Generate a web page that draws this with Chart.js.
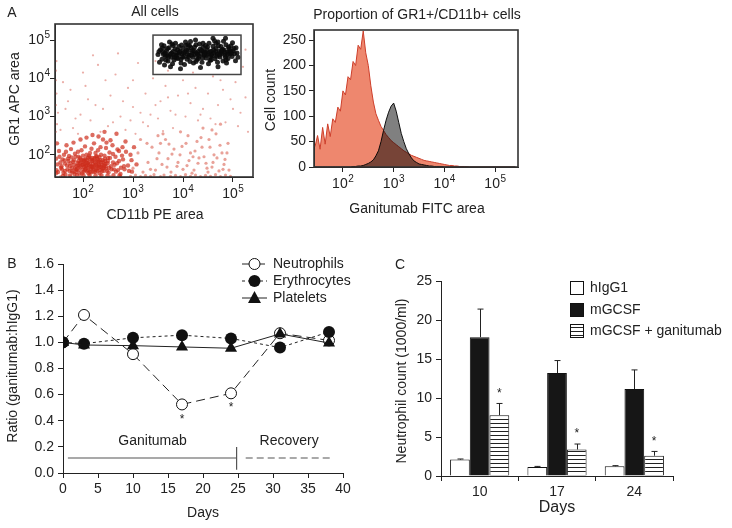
<!DOCTYPE html>
<html><head><meta charset="utf-8">
<script src="https://cdn.jsdelivr.net/npm/chart.js@4.4.1/dist/chart.umd.min.js"></script>
<style>
html,body{margin:0;padding:0;background:#fff;width:732px;height:528px;overflow:hidden}
canvas{position:absolute;left:0;top:0}
</style></head><body>
<canvas id="c1" width="732" height="528"></canvas>
<canvas id="c2" width="732" height="528"></canvas>
<canvas id="c3" width="732" height="528"></canvas>
<canvas id="c4" width="732" height="528"></canvas>
<script>
// ---------------- DATA ----------------
// Panel A left: flow cytometry dots, [log10 CD11b, log10 GR1] pairs (hand-read)
const logTicks = [2, 3, 4, 5];
const gatedCells = [
3.50,4.62, 3.55,4.75, 3.58,4.50, 3.60,4.68, 3.62,4.85, 3.65,4.58, 3.67,4.72, 3.70,4.45, 3.72,4.80, 3.74,4.63,
3.76,4.55, 3.78,4.90, 3.80,4.70, 3.82,4.48, 3.84,4.77, 3.86,4.60, 3.88,4.66, 3.90,4.52, 3.92,4.83, 3.94,4.71,
3.96,4.40, 3.98,4.64, 4.00,4.78, 4.02,4.57, 4.04,4.69, 4.06,4.86, 4.08,4.50, 4.10,4.74, 4.12,4.61, 4.14,4.44,
4.16,4.80, 4.18,4.67, 4.20,4.55, 4.22,4.72, 4.24,4.62, 4.26,4.88, 4.28,4.49, 4.30,4.70, 4.32,4.58, 4.34,4.76,
4.36,4.65, 4.38,4.42, 4.40,4.81, 4.42,4.60, 4.44,4.69, 4.46,4.53, 4.48,4.75, 4.50,4.64, 4.52,4.92, 4.54,4.47,
4.56,4.71, 4.58,4.59, 4.60,4.84, 4.62,4.66, 4.64,4.51, 4.66,4.78, 4.68,4.62, 4.70,4.95, 4.72,4.70, 4.74,4.56,
4.76,4.83, 4.78,4.65, 4.80,4.45, 4.82,4.74, 4.84,4.60, 4.86,4.88, 4.88,4.68, 4.90,4.52, 4.92,4.77, 4.94,4.63,
4.96,4.85, 4.98,4.57, 5.00,4.72, 5.03,4.64, 5.06,4.80, 5.10,4.55,
3.53,4.42, 3.57,4.88, 3.63,4.35, 3.68,4.60, 3.73,4.95, 3.79,4.38, 3.85,4.92, 3.91,4.62, 3.97,4.87, 4.03,4.36,
4.09,4.63, 4.15,4.96, 4.21,4.40, 4.27,4.66, 4.33,4.90, 4.39,4.54, 4.45,4.86, 4.51,4.38, 4.57,4.62, 4.63,4.98,
4.69,4.42, 4.75,4.67, 4.81,4.97, 4.87,4.40, 4.93,4.69, 4.99,4.93, 5.05,4.46, 3.95,4.25, 4.35,4.28, 4.70,4.30,
4.60,5.05, 4.85,5.05, 3.75,4.30, 4.25,5.00, 4.05,4.95,
3.64,4.66, 3.71,4.57, 3.81,4.61, 3.89,4.74, 4.01,4.66, 4.11,4.56, 4.19,4.73, 4.29,4.62, 4.41,4.70, 4.53,4.68,
4.65,4.70, 4.73,4.61, 4.79,4.76, 4.89,4.63, 4.95,4.72, 3.59,4.79, 3.87,4.53, 4.13,4.85, 4.47,4.60, 4.83,4.68,
3.52,4.70, 3.61,4.62, 3.69,4.78, 3.77,4.66, 3.83,4.56, 3.93,4.68, 3.99,4.55, 4.07,4.74, 4.17,4.60, 4.23,4.82,
4.31,4.52, 4.37,4.73, 4.43,4.64, 4.49,4.82, 4.55,4.56, 4.61,4.74, 4.67,4.58, 4.71,4.85, 4.77,4.72, 4.85,4.55,
4.91,4.82, 4.97,4.66, 5.02,4.78, 5.08,4.66, 3.66,4.48, 3.96,4.50, 4.26,4.44, 4.56,4.48, 4.86,4.48, 3.80,4.86,
4.10,4.88, 4.40,4.92, 4.66,4.92
];
const redCore = [
1.50,1.55, 1.55,1.80, 1.58,1.62, 1.62,2.00, 1.65,1.48, 1.68,1.72, 1.70,1.90, 1.73,1.58, 1.76,2.15, 1.78,1.66,
1.80,1.82, 1.83,1.50, 1.85,1.95, 1.87,1.70, 1.90,2.08, 1.92,1.60, 1.94,1.78, 1.96,1.88, 1.98,1.52, 2.00,1.98,
2.02,1.68, 2.04,2.22, 2.06,1.80, 2.08,1.57, 2.10,1.92, 2.12,1.72, 2.14,2.05, 2.16,1.63, 2.18,1.85, 2.20,1.76,
2.22,2.30, 2.24,1.55, 2.26,1.96, 2.28,1.70, 2.30,2.12, 2.32,1.82, 2.34,1.60, 2.36,2.00, 2.38,1.74, 2.40,2.40,
2.42,1.66, 2.44,1.90, 2.46,2.18, 2.48,1.58, 2.50,1.84, 2.53,2.06, 2.56,1.70, 2.59,2.25, 2.62,1.62, 2.65,1.95,
2.68,1.78, 2.72,2.10, 2.76,1.66, 2.80,1.88, 2.85,2.35, 2.90,1.72, 2.95,2.00,
1.52,2.10, 1.60,1.45, 1.67,2.25, 1.74,1.46, 1.81,2.32, 1.88,1.47, 1.95,2.40, 2.01,1.46, 2.07,2.45, 2.13,1.47,
2.19,2.52, 2.25,1.46, 2.31,2.48, 2.37,1.47, 2.43,2.60, 2.49,1.46, 2.55,2.38, 2.61,1.47, 2.67,2.55, 2.73,1.46,
2.79,2.20, 1.63,1.85, 1.72,1.97, 1.84,1.64, 1.91,1.84, 2.03,1.76, 2.09,1.66, 2.15,1.88, 2.21,1.62, 2.27,1.82,
2.33,1.94, 2.39,1.64, 2.45,1.76, 2.11,1.80, 2.17,1.70, 2.23,1.92, 1.99,1.86, 2.05,1.90, 2.29,1.58, 2.35,1.86,
1.47,1.60, 1.46,1.90, 1.48,2.30, 1.57,1.70, 1.64,1.58, 1.75,1.78, 1.86,1.55, 1.93,1.70, 2.00,1.62, 2.07,1.72,
2.14,1.56, 2.19,1.66, 2.26,1.74, 2.31,1.66, 2.41,1.80, 2.52,1.66, 2.60,1.80, 2.70,1.60, 2.83,1.62, 2.98,1.56,
1.46,1.52, 1.49,1.75, 1.53,1.95, 1.56,1.66, 1.59,1.88, 1.61,1.53, 1.64,1.77, 1.66,2.08, 1.69,1.62, 1.71,1.84,
1.74,1.70, 1.77,1.93, 1.79,1.54, 1.82,1.74, 1.84,2.03, 1.86,1.61, 1.89,1.79, 1.91,1.95, 1.93,1.51, 1.95,1.68,
1.97,2.12, 1.99,1.74, 2.01,1.56, 2.03,1.86, 2.05,1.64, 2.07,2.00, 2.09,1.78, 2.11,1.52, 2.13,1.94, 2.15,1.68,
2.17,2.16, 2.19,1.84, 2.21,1.56, 2.23,1.72, 2.25,2.05, 2.27,1.64, 2.29,1.90, 2.31,1.76, 2.33,1.52, 2.35,2.20,
2.37,1.68, 2.39,1.86, 2.41,1.58, 2.43,1.98, 2.45,1.70, 2.47,2.32, 2.49,1.78, 2.51,1.54, 2.54,1.92, 2.57,1.62,
2.60,2.02, 2.63,1.74, 2.66,1.56, 2.69,2.14, 2.72,1.84, 2.75,1.50, 2.78,1.98, 2.82,1.70, 2.86,2.08, 2.92,1.58,
2.97,1.86, 3.02,2.20, 3.07,1.75,
1.90,1.72, 1.96,1.80, 2.02,1.84, 2.06,1.70, 2.10,1.60, 2.14,1.76, 2.18,1.92, 2.20,1.68, 2.24,1.80, 2.26,1.60,
2.28,1.96, 2.32,1.72, 2.36,1.80, 2.38,1.58, 2.42,1.72, 2.44,1.84, 2.08,1.86, 2.12,1.98, 2.16,1.54, 1.94,1.92,
1.88,1.62, 1.82,1.86, 1.78,1.58, 2.46,1.64, 2.50,1.92, 2.22,1.88, 2.04,1.60, 2.00,1.74, 2.30,1.86, 2.34,1.68
];
const redMid = [
3.30,1.80, 3.38,2.20, 3.45,1.60, 3.52,2.05, 3.58,1.75, 3.65,2.40, 3.70,1.90, 3.76,1.55, 3.82,2.15, 3.88,1.70,
3.94,2.00, 4.00,1.62, 4.06,2.30, 4.12,1.85, 4.18,1.52, 4.24,2.10, 4.30,1.78, 4.36,2.45, 4.42,1.95, 4.48,1.65,
4.54,2.20, 4.60,1.80, 4.66,2.55, 4.72,1.58, 4.78,2.05, 4.84,1.88, 4.90,2.30, 3.42,1.48, 3.62,1.47, 3.85,1.46,
4.05,1.48, 4.25,1.47, 4.45,1.46, 4.65,1.48, 4.85,1.47, 3.50,2.50, 3.95,2.60, 4.40,2.70, 4.75,2.80, 3.20,1.55,
3.10,2.05, 3.00,1.65, 3.15,2.40, 4.50,1.55, 4.20,1.95, 3.72,2.28, 4.62,2.00, 4.80,1.62, 3.05,1.47, 3.25,1.46,
3.35,1.62, 3.48,1.90, 3.55,2.30, 3.68,1.68, 3.78,2.02, 3.90,1.80, 3.98,2.22, 4.08,1.72, 4.15,2.05, 4.22,1.60,
4.32,1.92, 4.38,2.20, 4.46,1.78, 4.52,2.40, 4.58,1.68, 4.68,1.92, 4.74,2.25, 4.82,1.75, 4.88,2.05, 4.92,1.60,
3.28,2.30, 3.60,2.55, 4.10,2.50, 4.58,2.65, 4.28,2.35,
1.55,1.43, 1.75,1.43, 1.95,1.43, 2.15,1.43, 2.35,1.43, 2.55,1.43, 2.75,1.43, 2.95,1.44, 3.15,1.43, 3.35,1.44,
3.55,1.43, 3.75,1.44, 3.95,1.43, 4.15,1.44, 4.35,1.43, 4.55,1.44, 4.75,1.43, 4.95,1.44
];
const redSparse = [
1.50,3.10, 1.47,3.60, 1.46,4.20, 1.48,2.80, 1.47,4.45, 1.70,3.40, 1.80,2.70, 1.95,3.05, 2.05,3.80, 2.15,2.90,
2.30,4.35, 2.40,3.20, 2.50,2.75, 2.55,3.55, 2.65,4.10, 2.75,3.00, 2.85,2.65, 2.90,3.75, 3.00,3.25, 3.10,4.40,
3.20,2.85, 3.25,3.60, 3.35,3.05, 3.40,4.00, 3.50,2.95, 3.55,3.40, 3.65,3.80, 3.75,3.15, 3.80,2.70, 3.90,3.55,
4.00,3.95, 4.05,3.00, 4.15,3.35, 4.25,3.75, 4.30,2.90, 4.40,3.20, 4.50,3.60, 4.55,2.95, 4.60,4.05, 4.70,3.30,
4.80,3.70, 4.85,2.85, 4.95,3.45, 5.05,3.90, 5.15,3.10, 5.20,4.30, 5.25,4.75, 5.30,2.60, 2.20,4.60, 2.70,4.65,
1.60,3.90, 2.00,4.15, 3.45,4.45, 2.35,2.60, 1.90,2.55, 3.05,2.55, 3.60,2.62, 2.10,3.45, 2.95,2.90, 3.70,3.50,
1.55,2.65, 1.65,3.20, 1.75,3.70, 1.85,2.95, 2.25,3.30, 2.45,3.95, 2.60,2.85, 2.80,3.40, 3.15,3.10, 3.30,2.75,
3.45,3.30, 3.85,3.05, 4.10,3.60, 4.35,3.05, 4.65,2.80, 4.75,3.95, 5.00,3.20, 5.10,2.75, 5.25,3.50, 1.46,3.30,
1.46,2.60, 1.46,3.95, 3.00,3.95, 3.70,4.20, 4.20,4.15
];
// Gate (log10 units)
const gateX = [3.4, 5.16];
const gateY = [4.1, 5.13];

// Panel A right: histogram, x = log10 FITC
const histX = [1.45,1.50,1.55,1.60,1.65,1.70,1.75,1.80,1.85,1.90,1.95,2.00,2.05,2.10,2.15,2.20,2.25,2.30,2.35,2.40,
  2.45,2.50,2.55,2.60,2.65,2.70,2.75,2.80,2.85,2.90,2.95,3.00,3.05,3.10,3.15,3.20,3.25,3.30,3.35,3.40,
  3.45,3.50,3.55,3.60,3.65,3.70,3.75,3.80,3.85,3.90,3.95,4.00,4.05,4.10,4.15,4.20,4.25,4.30,4.40,4.50,5.40];
const isotypeCounts = [40,62,35,78,45,85,60,95,88,118,110,150,142,178,172,208,200,240,232,268,
  225,200,160,128,105,92,80,72,64,58,52,48,44,40,36,32,29,26,23,21,
  19,17,15,13,12,11,10,9,8,7,6,5,4,3,3,2,2,1,1,0,0];
const ganitumabCounts = [0,0,0,0,0,0,0,0,0,0,0,0,0,0,0,1,1,2,2,3,
  5,7,10,14,22,32,50,72,92,108,120,126,110,88,66,50,36,26,18,12,
  9,6,5,4,3,2,2,1,1,1,1,0,0,0,0,0,0,0,0,0,0];
const histYTicks = [0, 50, 100, 150, 200, 250];

// Panel B
const days = [0, 3, 10, 17, 24, 31, 38];
const neutrophils = [1.00, 1.21, 0.91, 0.525, 0.61, 1.07, 1.015];
const erythrocytes = [1.00, 0.99, 1.035, 1.055, 1.03, 0.96, 1.08];
const platelets = [1.00, 0.98, 0.975, 0.965, 0.955, 1.065, 0.995];
const starDaysB = [17, 24];

// Panel C
const dayLabels = ['10', '17', '24'];
const hIgG1 = [2.1, 1.15, 1.25];
const hIgG1Err = [0.08, 0.08, 0.08];
const mGCSF = [17.8, 13.2, 11.15];
const mGCSFErr = [3.6, 1.6, 2.45];
const mGCSFGan = [7.8, 3.4, 2.6];
const mGCSFGanErr = [1.5, 0.7, 0.55];

// ---------------- SETUP ----------------
const FONT = "'Liberation Sans', Arial, Helvetica, sans-serif";
const INK = '#222';
Chart.defaults.font.family = FONT;
Chart.defaults.font.size = 14;
Chart.defaults.color = INK;
Chart.defaults.animation = false;
Chart.defaults.plugins.legend.display = false;
Chart.defaults.plugins.tooltip.enabled = false;

function pairs(a){ const out=[]; for(let i=0;i<a.length;i+=2) out.push({x:a[i], y:a[i+1]}); return out; }
function pad(a){ return {left:0, top:a.top, right:732-a.right, bottom:0}; }
function gridOpt(){ return {display:true, drawOnChartArea:false, drawTicks:true, tickLength:5, color:INK, lineWidth:1}; }
function borderOpt(){ return {display:true, color:INK, width:1}; }

// "10" with raised exponent, drawn as text
function drawPow(ctx, x, y, exp, align){
  ctx.save();
  ctx.fillStyle = INK; ctx.textBaseline = 'middle'; ctx.textAlign = 'left';
  ctx.font = '14px '+FONT; const w1 = ctx.measureText('10').width;
  ctx.font = '10px '+FONT; const w2 = ctx.measureText(String(exp)).width;
  const tot = w1 + w2 + 0.5;
  let x0 = align==='right' ? x - tot : x - tot/2;
  ctx.font = '14px '+FONT; ctx.fillText('10', x0, y);
  ctx.font = '10px '+FONT; ctx.fillText(String(exp), x0 + w1 + 0.5, y - 5);
  ctx.restore();
}
function powPlugin(xLabelY, yLabelX){
  return {
    id:'pow',
    afterDraw(chart){
      const ctx = chart.ctx;
      logTicks.forEach(v=>{ drawPow(ctx, chart.scales.x.getPixelForValue(v), xLabelY, v, 'center'); });
      if (yLabelX !== null) logTicks.forEach(v=>{ drawPow(ctx, yLabelX, chart.scales.y.getPixelForValue(v), v, 'right'); });
    }
  };
}

// text plugin
Chart.register({
  id:'txt',
  afterDraw(chart, args, opts){
    const ctx = chart.ctx;
    (opts.items||[]).forEach(it=>{
      ctx.save();
      ctx.font = (it.size||14)+'px '+FONT;
      ctx.fillStyle = it.color||INK;
      ctx.textAlign = it.align||'center';
      ctx.textBaseline = 'middle';
      let x = it.x, y = it.y;
      if (it.dx !== undefined) x = chart.scales.x.getPixelForValue(it.dx);
      if (it.dy !== undefined) y = chart.scales.y.getPixelForValue(it.dy);
      ctx.translate(x, y);
      if (it.rot) ctx.rotate(it.rot*Math.PI/180);
      ctx.fillText(it.text, 0, 0);
      ctx.restore();
    });
  }
});
const boxPlugin = {
  id:'box',
  afterDatasetsDraw(chart){
    const a = chart.chartArea, ctx = chart.ctx;
    ctx.save(); ctx.strokeStyle='#333'; ctx.lineWidth=1.6;
    ctx.strokeRect(a.left, a.top, a.right-a.left, a.bottom-a.top);
    ctx.restore();
  }
};

// ---------------- PANEL A: scatter ----------------
const A1 = {left:55, right:253, top:24, bottom:177};
new Chart(document.getElementById('c1'), {
  type:'scatter',
  data:{datasets:[
    {data:pairs(gatedCells), pointRadius:2.5, backgroundColor:'rgba(10,10,10,0.88)', borderWidth:0},
    {data:pairs(redCore), pointRadius:2.2, backgroundColor:'rgba(205,45,28,0.7)', borderWidth:0},
    {data:pairs(redMid), pointRadius:1.6, backgroundColor:'rgba(215,85,70,0.55)', borderWidth:0},
    {data:pairs(redSparse), pointRadius:1.1, backgroundColor:'rgba(222,120,110,0.6)', borderWidth:0}
  ]},
  options:{
    responsive:false, layout:{padding:pad(A1)},
    scales:{
      x:{type:'linear', min:1.44, max:5.4, afterFit:s=>{s.height=528-A1.bottom;},
        afterBuildTicks:s=>{s.ticks=logTicks.map(v=>({value:v}));},
        ticks:{callback:()=>'', padding:2, maxRotation:0}, grid:gridOpt(), border:borderOpt()},
      y:{type:'linear', min:1.42, max:5.42, afterFit:s=>{s.width=A1.left;},
        afterBuildTicks:s=>{s.ticks=logTicks.map(v=>({value:v}));},
        ticks:{callback:()=>'', padding:3}, grid:gridOpt(), border:borderOpt()}
    },
    plugins:{txt:{items:[
      {text:'A', x:12, y:13},
      {text:'All cells', x:155, y:12},
      {text:'GR1 APC area', x:15, y:99, rot:-90},
      {text:'CD11b PE area', x:155, y:215}
    ]}}
  },
  plugins:[boxPlugin, powPlugin(194, 50), {
    id:'gate',
    afterDatasetsDraw(chart){
      const sx=chart.scales.x, sy=chart.scales.y, ctx=chart.ctx;
      const x0=sx.getPixelForValue(gateX[0]), x1=sx.getPixelForValue(gateX[1]);
      const y0=sy.getPixelForValue(gateY[1]), y1=sy.getPixelForValue(gateY[0]);
      ctx.save(); ctx.strokeStyle='#444'; ctx.lineWidth=1.5;
      ctx.strokeRect(x0,y0,x1-x0,y1-y0); ctx.restore();
    }
  }]
});

// ---------------- PANEL A: histogram ----------------
const A2 = {left:314, right:518, top:30, bottom:167};
new Chart(document.getElementById('c2'), {
  type:'line',
  data:{datasets:[
    {label:'iso', data:histX.map((x,i)=>({x, y:isotypeCounts[i]})), order:2, fill:'origin',
     backgroundColor:'rgb(238,135,110)', borderColor:'rgb(205,62,42)', borderWidth:1, pointRadius:0, tension:0},
    {label:'gan', data:histX.map((x,i)=>({x, y:ganitumabCounts[i]})), order:1, fill:'origin',
     backgroundColor:'rgb(128,128,128)', borderColor:'rgb(20,20,20)', borderWidth:1, pointRadius:0, tension:0}
  ]},
  options:{
    responsive:false, layout:{padding:pad(A2)},
    scales:{
      x:{type:'linear', min:1.43, max:5.45, afterFit:s=>{s.height=528-A2.bottom;},
        afterBuildTicks:s=>{s.ticks=logTicks.map(v=>({value:v}));},
        ticks:{callback:()=>'', padding:2, maxRotation:0}, grid:gridOpt(), border:borderOpt()},
      y:{type:'linear', min:0, max:270, afterFit:s=>{s.width=A2.left;},
        afterBuildTicks:s=>{s.ticks=histYTicks.map(v=>({value:v}));},
        ticks:{padding:3}, grid:gridOpt(), border:borderOpt()}
    },
    plugins:{txt:{items:[
      {text:'Proportion of GR1+/CD11b+ cells', x:417, y:15},
      {text:'Cell count', x:271, y:100, rot:-90},
      {text:'Ganitumab FITC area', x:417, y:209}
    ]}}
  },
  plugins:[boxPlugin, powPlugin(184, null), {
    id:'blend',
    afterDatasetDraw(chart, args){
      const lab = chart.data.datasets[args.index].label;
      if (lab==='iso') chart.ctx.globalCompositeOperation='multiply';
      if (lab==='gan') chart.ctx.globalCompositeOperation='source-over';
    }
  }]
});

// ---------------- PANEL B ----------------
const B = {left:63, right:343, top:264, bottom:473};
function drawMarker(ctx, kind, x, y){
  ctx.save(); ctx.lineWidth=1; ctx.strokeStyle='#111'; ctx.fillStyle='#111'; ctx.setLineDash([]);
  if (kind==='open'){ ctx.fillStyle='#fff'; ctx.beginPath(); ctx.arc(x,y,5.5,0,2*Math.PI); ctx.fill(); ctx.stroke(); }
  else if (kind==='dot'){ ctx.beginPath(); ctx.arc(x,y,6,0,2*Math.PI); ctx.fill(); }
  else { ctx.beginPath(); ctx.moveTo(x,y-7); ctx.lineTo(x+6.5,y+5); ctx.lineTo(x-6.5,y+5); ctx.closePath(); ctx.fill(); }
  ctx.restore();
}
new Chart(document.getElementById('c3'), {
  type:'line',
  data:{labels:days, datasets:[
    {label:'Neutrophils', data:days.map((d,i)=>({x:d,y:neutrophils[i]})), order:3, borderColor:'#222', borderWidth:1,
     borderDash:[9,5], pointStyle:'circle', pointRadius:5.5, pointBackgroundColor:'#fff', pointBorderColor:'#111', pointBorderWidth:1, tension:0, fill:false},
    {label:'Erythrocytes', data:days.map((d,i)=>({x:d,y:erythrocytes[i]})), order:2, borderColor:'#222', borderWidth:1,
     borderDash:[3,3], pointStyle:'circle', pointRadius:6, pointBackgroundColor:'#111', pointBorderColor:'#111', pointBorderWidth:0, tension:0, fill:false},
    {label:'Platelets', data:days.map((d,i)=>({x:d,y:platelets[i]})), order:1, borderColor:'#222', borderWidth:1,
     pointStyle:'triangle', pointRadius:7, pointBackgroundColor:'#111', pointBorderColor:'#111', pointBorderWidth:0, tension:0, fill:false}
  ]},
  options:{
    responsive:false, layout:{padding:pad(B)},
    scales:{
      x:{type:'linear', min:0, max:40, afterFit:s=>{s.height=528-B.bottom;},
        ticks:{stepSize:5, padding:3, maxRotation:0}, grid:gridOpt(), border:borderOpt()},
      y:{type:'linear', min:0, max:1.6, afterFit:s=>{s.width=B.left;},
        ticks:{stepSize:0.2, padding:4, callback:v=>v.toFixed(1)}, grid:gridOpt(), border:borderOpt()}
    },
    plugins:{txt:{items:[
      {text:'B', x:12, y:264},
      {text:'Ratio (ganitumab:hIgG1)', x:13, y:366, rot:-90},
      {text:'Days', x:203, y:513},
      {text:'Ganitumab', dx:12.8, dy:0.246},
      {text:'Recovery', dx:32.3, dy:0.246},
      {text:'*', dx:starDaysB[0], dy:0.41, size:12},
      {text:'*', dx:starDaysB[1], dy:0.50, size:12},
      {text:'Neutrophils', x:273, y:264, align:'left'},
      {text:'Erythrocytes', x:273, y:281, align:'left'},
      {text:'Platelets', x:273, y:298, align:'left'}
    ]}}
  },
  plugins:[{
    id:'periods',
    afterDatasetsDraw(chart){
      const sx=chart.scales.x, sy=chart.scales.y, ctx=chart.ctx;
      const yl=sy.getPixelForValue(0.115);
      ctx.save(); ctx.strokeStyle='#555'; ctx.lineWidth=1.2;
      ctx.beginPath(); ctx.moveTo(sx.getPixelForValue(0.7), yl); ctx.lineTo(sx.getPixelForValue(24.8), yl); ctx.stroke();
      ctx.beginPath(); ctx.moveTo(sx.getPixelForValue(24.8), sy.getPixelForValue(0.2)); ctx.lineTo(sx.getPixelForValue(24.8), sy.getPixelForValue(0.025)); ctx.stroke();
      ctx.setLineDash([7,4]);
      ctx.beginPath(); ctx.moveTo(sx.getPixelForValue(26.1), yl); ctx.lineTo(sx.getPixelForValue(38.6), yl); ctx.stroke();
      ctx.restore();
      const rows=[[264,[9,5],'open'],[281,[3,3],'dot'],[298,[],'tri']];
      rows.forEach(r=>{
        ctx.save(); ctx.strokeStyle='#222'; ctx.lineWidth=1; ctx.setLineDash(r[1]);
        ctx.beginPath(); ctx.moveTo(242,r[0]); ctx.lineTo(267,r[0]); ctx.stroke(); ctx.restore();
        drawMarker(ctx, r[2], 254.5, r[0]);
      });
    }
  }]
});

// ---------------- PANEL C ----------------
const C = {left:441, right:673, top:281, bottom:476};
const pc = document.createElement('canvas'); pc.width=8; pc.height=4;
const pctx = pc.getContext('2d'); pctx.fillStyle='#fff'; pctx.fillRect(0,0,8,4);
pctx.fillStyle='#222'; pctx.fillRect(0,3,8,1);
const hatch = pctx.createPattern(pc,'repeat');
const errs = [hIgG1Err, mGCSFErr, mGCSFGanErr];
new Chart(document.getElementById('c4'), {
  type:'bar',
  data:{labels:dayLabels, datasets:[
    {label:'hIgG1', data:hIgG1, backgroundColor:'#fff', borderColor:'#111', borderWidth:1},
    {label:'mGCSF', data:mGCSF, backgroundColor:'#161616', borderColor:'#111', borderWidth:1},
    {label:'mGCSF + ganitumab', data:mGCSFGan, backgroundColor:hatch, borderColor:'#111', borderWidth:1}
  ]},
  options:{
    responsive:false, layout:{padding:pad(C)},
    datasets:{bar:{categoryPercentage:0.765, barPercentage:1.0}},
    scales:{
      x:{type:'category', offset:true, afterFit:s=>{s.height=528-C.bottom;},
        ticks:{padding:3, maxRotation:0}, grid:Object.assign(gridOpt(),{offset:true}), border:borderOpt()},
      y:{type:'linear', min:0, max:25, afterFit:s=>{s.width=C.left;},
        ticks:{stepSize:5, padding:4}, grid:gridOpt(), border:borderOpt()}
    },
    plugins:{txt:{items:[
      {text:'C', x:400, y:265},
      {text:'Neutrophil count (1000/ml)', x:402, y:381, rot:-90},
      {text:'Days', x:557, y:508, size:16},
      {text:'hIgG1', x:590, y:288, align:'left'},
      {text:'mGCSF', x:590, y:310, align:'left'},
      {text:'mGCSF + ganitumab', x:590, y:331, align:'left'}
    ]}}
  },
  plugins:[{
    id:'errs',
    afterDatasetsDraw(chart){
      const ctx=chart.ctx, sy=chart.scales.y;
      ctx.save(); ctx.strokeStyle='#222'; ctx.lineWidth=1;
      chart.data.datasets.forEach((ds,i)=>{
        const meta=chart.getDatasetMeta(i);
        meta.data.forEach((el,j)=>{
          const top=sy.getPixelForValue(ds.data[j]+errs[i][j]);
          const x=Math.round(el.x)+0.5;
          ctx.beginPath(); ctx.moveTo(x, el.y); ctx.lineTo(x, top); ctx.moveTo(x-3, top); ctx.lineTo(x+3, top); ctx.stroke();
          if (i===2){
            ctx.font='12px '+FONT; ctx.fillStyle=INK; ctx.textAlign='center'; ctx.textBaseline='middle';
            ctx.fillText('*', el.x, top - 10);
          }
        });
      });
      const sw=[[288,'#fff'],[310,'#161616'],[331,hatch]];
      sw.forEach(s=>{
        ctx.fillStyle=s[1]; ctx.fillRect(570.5,s[0]-6.5,13,13);
        ctx.strokeStyle='#111'; ctx.strokeRect(570.5,s[0]-6.5,13,13);
      });
      ctx.restore();
    }
  }]
});
</script>
</body></html>
